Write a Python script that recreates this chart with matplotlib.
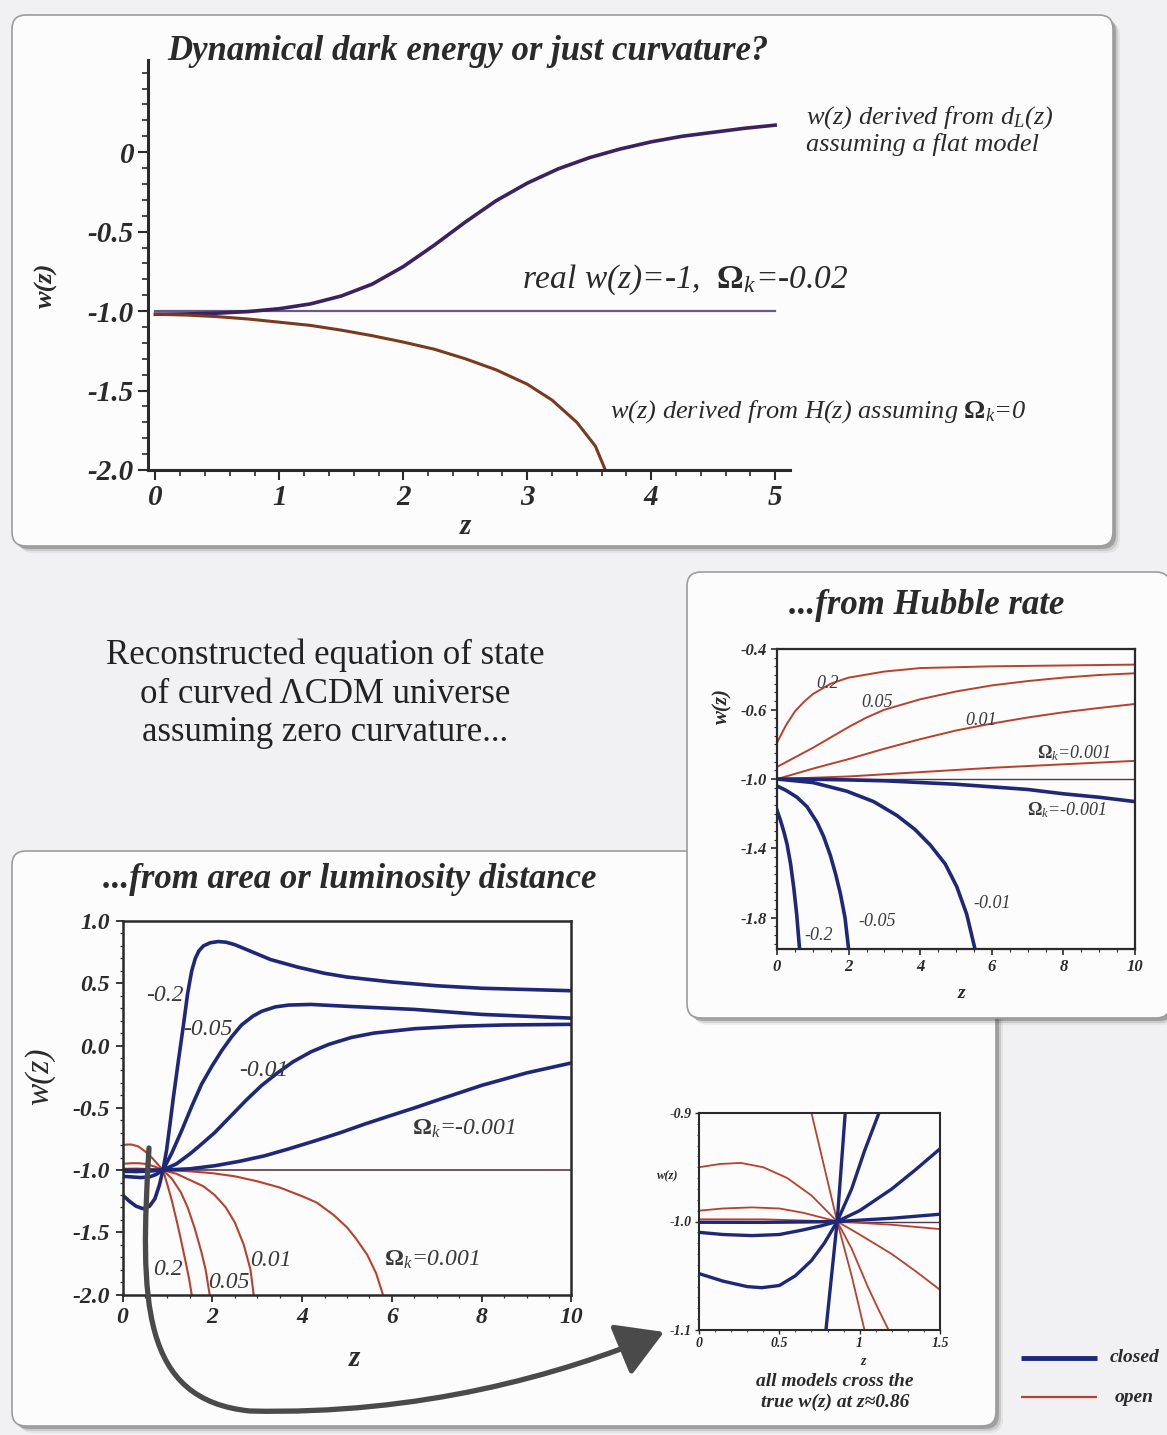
import numpy as np
import matplotlib
matplotlib.use('Agg')
import matplotlib.pyplot as plt
from matplotlib.patches import FancyBboxPatch, FancyArrowPatch
from matplotlib.path import Path
from matplotlib.ticker import MultipleLocator

# ---------------------------------------------------------------
# data
# ---------------------------------------------------------------
# top panel : w(z) reconstructed for Omega_k = -0.02
z_dl = [0, 0.25, 0.5, 0.75, 1.0, 1.25, 1.5, 1.75, 2.0, 2.25, 2.5, 2.75,
        3.0, 3.25, 3.5, 3.75, 4.0, 4.25, 4.5, 4.75, 5.0]
w_dl = [-1.02, -1.018, -1.013, -1.003, -0.985, -0.955, -0.905, -0.83, -0.72,
        -0.585, -0.44, -0.305, -0.195, -0.105, -0.035, 0.02, 0.065, 0.10,
        0.125, 0.15, 0.17]
z_hz = [0, 0.25, 0.5, 0.75, 1.0, 1.25, 1.5, 1.75, 2.0, 2.25, 2.5, 2.75,
        3.0, 3.2, 3.4, 3.55, 3.63]
w_hz = [-1.02, -1.025, -1.035, -1.05, -1.07, -1.09, -1.12, -1.155, -1.195,
        -1.24, -1.30, -1.37, -1.46, -1.56, -1.70, -1.85, -2.0]

# area / luminosity distance panel (closed = negative Omega_k)
zA_m02 = [0, 0.15, 0.3, 0.45, 0.6, 0.72, 0.82, 0.9, 0.98, 1.06, 1.13, 1.24,
          1.35, 1.45, 1.54, 1.62, 1.7, 1.8, 1.95, 2.13, 2.3, 2.5, 2.9, 3.3,
          3.9, 4.5, 5.0, 6.0, 7.0, 8.0, 9.0, 10.0]
wA_m02 = [-1.2, -1.25, -1.29, -1.31, -1.29, -1.23, -1.12, -1.0, -0.84, -0.62,
          -0.42, -0.13, 0.15, 0.42, 0.60, 0.70, 0.76, 0.80, 0.825, 0.835,
          0.83, 0.81, 0.75, 0.69, 0.63, 0.58, 0.55, 0.51, 0.48, 0.46, 0.45,
          0.44]
zA_m005 = [0, 0.2, 0.4, 0.6, 0.75, 0.9, 1.1, 1.32, 1.55, 1.76, 2.0, 2.21,
           2.43, 2.65, 2.9, 3.1, 3.4, 3.7, 4.2, 5.0, 6.5, 8.0, 10.0]
wA_m005 = [-1.05, -1.055, -1.06, -1.055, -1.035, -1.0, -0.86, -0.68, -0.48,
           -0.31, -0.16, -0.04, 0.07, 0.165, 0.235, 0.275, 0.31, 0.325, 0.33,
           0.315, 0.29, 0.25, 0.22]
zA_m001 = [0, 0.3, 0.6, 0.9, 1.2, 1.5, 1.7, 2.05, 2.4, 2.75, 3.1, 3.45, 3.8,
           4.2, 4.6, 5.1, 5.6, 6.5, 7.5, 8.5, 10.0]
wA_m001 = [-1.01, -1.012, -1.008, -1.0, -0.95, -0.87, -0.81, -0.70, -0.57,
           -0.44, -0.32, -0.22, -0.13, -0.05, 0.01, 0.065, 0.10, 0.135, 0.155,
           0.165, 0.17]
zA_m0001 = [0, 0.5, 0.9, 1.5, 2.06, 2.6, 3.17, 3.7, 4.29, 4.85, 5.4, 5.95,
            6.51, 7.0, 7.5, 8.0, 8.5, 9.0, 9.5, 10.0]
wA_m0001 = [-1.001, -1.001, -1.0, -0.99, -0.965, -0.93, -0.885, -0.83,
            -0.765, -0.70, -0.63, -0.565, -0.50, -0.44, -0.38, -0.32, -0.27,
            -0.22, -0.18, -0.14]
# open = positive Omega_k
zA_p02 = [0, 0.1, 0.2, 0.35, 0.5, 0.65, 0.8, 0.9, 1.0, 1.1, 1.2, 1.3, 1.4,
          1.48, 1.54]
wA_p02 = [-0.80, -0.795, -0.795, -0.81, -0.85, -0.90, -0.96, -1.0, -1.12,
          -1.25, -1.40, -1.56, -1.73, -1.87, -2.0]
zA_p005 = [0, 0.2, 0.35, 0.5, 0.7, 0.9, 1.1, 1.3, 1.45, 1.6, 1.75, 1.85, 1.94]
wA_p005 = [-0.95, -0.945, -0.945, -0.95, -0.97, -1.0, -1.07, -1.18, -1.30,
           -1.46, -1.65, -1.80, -2.0]
zA_p001 = [0, 0.3, 0.6, 0.9, 1.2, 1.5, 1.8, 2.05, 2.3, 2.5, 2.7, 2.85, 2.92]
wA_p001 = [-0.99, -0.988, -0.992, -1.0, -1.03, -1.08, -1.13, -1.20, -1.30,
           -1.42, -1.60, -1.80, -2.0]
zA_p0001 = [0, 0.9, 1.5, 2.0, 2.5, 3.0, 3.5, 4.0, 4.32, 4.7, 5.0, 5.2, 5.45,
            5.65, 5.8]
wA_p0001 = [-0.999, -1.0, -1.01, -1.025, -1.05, -1.09, -1.14, -1.21, -1.26,
            -1.36, -1.46, -1.55, -1.68, -1.83, -2.0]

# Hubble rate panel
zH_m0001 = [0, 1, 2, 3, 4, 5, 6, 7, 8, 9, 10]
wH_m0001 = [-1.0, -1.001, -1.005, -1.01, -1.02, -1.03, -1.045, -1.06, -1.085,
            -1.105, -1.13]
zH_m001 = [0, 1, 1.95, 2.7, 3.35, 3.85, 4.28, 4.7, 5.02, 5.3, 5.53]
wH_m001 = [-1.0, -1.02, -1.07, -1.13, -1.21, -1.29, -1.38, -1.49, -1.62,
           -1.78, -1.98]
zH_m005 = [0, 0.25, 0.56, 0.84, 1.12, 1.3, 1.49, 1.64, 1.77, 1.9, 2.0]
wH_m005 = [-1.04, -1.065, -1.105, -1.16, -1.25, -1.33, -1.44, -1.55, -1.66,
           -1.80, -1.98]
zH_m02 = [0, 0.1, 0.2, 0.28, 0.38, 0.47, 0.55, 0.63]
wH_m02 = [-1.18, -1.24, -1.31, -1.375, -1.49, -1.63, -1.78, -1.98]
zH_p0001 = [0, 2, 4, 6, 8, 10]
wH_p0001 = [-1.0, -0.985, -0.96, -0.935, -0.915, -0.895]
zH_p001 = [0, 1, 2, 3, 4, 5, 6, 7, 8, 9, 10]
wH_p001 = [-1.0, -0.94, -0.885, -0.825, -0.77, -0.72, -0.68, -0.645, -0.615,
           -0.59, -0.567]
zH_p005 = [0, 0.5, 1, 1.5, 2, 2.5, 3, 4, 5, 6, 7, 8, 9, 10]
wH_p005 = [-0.93, -0.875, -0.82, -0.76, -0.70, -0.645, -0.60, -0.54, -0.495,
           -0.46, -0.435, -0.415, -0.40, -0.39]
zH_p02 = [0, 0.25, 0.5, 0.75, 1, 1.5, 2, 3, 4, 5, 6, 8, 10]
wH_p02 = [-0.79, -0.69, -0.61, -0.555, -0.51, -0.45, -0.415, -0.38, -0.36,
          -0.355, -0.35, -0.345, -0.34]

# zoom inset around the crossing point
zI_m0001 = [0, 0.4, 0.86, 1.2, 1.5]
wI_m0001 = [-1.0007, -1.0008, -1.0, -0.997, -0.9933]
zI_m001 = [0, 0.15, 0.33, 0.5, 0.64, 0.76, 0.86, 1.0, 1.2, 1.35, 1.5]
wI_m001 = [-1.010, -1.012, -1.013, -1.012, -1.008, -1.004, -1.0, -0.99,
           -0.97, -0.952, -0.933]
zI_m005 = [0, 0.15, 0.3, 0.39, 0.5, 0.6, 0.7, 0.78, 0.86, 0.95, 1.03, 1.12]
wI_m005 = [-1.048, -1.055, -1.06, -1.061, -1.059, -1.05, -1.036, -1.02, -1.0,
           -0.97, -0.935, -0.9]
zI_m02 = [0.79, 0.825, 0.86, 0.885, 0.91]
wI_m02 = [-1.1, -1.05, -1.0, -0.95, -0.9]
zI_p0001 = [0, 0.4, 0.86, 1.2, 1.5]
wI_p0001 = [-0.998, -0.998, -1.0, -1.003, -1.007]
zI_p001 = [0, 0.15, 0.33, 0.5, 0.65, 0.86, 1.0, 1.2, 1.35, 1.5]
wI_p001 = [-0.990, -0.988, -0.987, -0.988, -0.992, -1.0, -1.012, -1.03,
           -1.046, -1.063]
zI_p005 = [0, 0.13, 0.26, 0.4, 0.55, 0.7, 0.86, 0.95, 1.05, 1.12, 1.18]
wI_p005 = [-0.95, -0.947, -0.946, -0.95, -0.96, -0.976, -1.0, -1.025, -1.06,
           -1.082, -1.1]
zI_p02 = [0.7, 0.78, 0.86, 0.95, 1.03]
wI_p02 = [-0.9, -0.95, -1.0, -1.05, -1.1]

# ---------------------------------------------------------------
W, H = 1167, 1435
plt.rcParams['font.family'] = ['Liberation Serif', 'DejaVu Serif']
plt.rcParams['mathtext.fontset'] = 'custom'
plt.rcParams['mathtext.rm'] = 'Liberation Serif'
plt.rcParams['mathtext.it'] = 'Liberation Serif:italic'
plt.rcParams['mathtext.bf'] = 'Liberation Serif:bold'
plt.rcParams['axes.unicode_minus'] = False

BLUE = '#1f2878'
RED = '#b8412e'
TXT = '#3a3a3a'
DARK = '#2a2a2a'

fig = plt.figure(figsize=(W/100, H/100), dpi=100)
fig.patch.set_facecolor('#f1f1f3')


def rect(x0, y0, x1, y1):
    return [x0/W, 1 - y1/H, (x1-x0)/W, (y1-y0)/H]


bg = fig.add_axes([0, 0, 1, 1], zorder=0)
bg.set_xlim(0, W)
bg.set_ylim(H, 0)
bg.axis('off')


def panel(x0, y0, x1, y1):
    for off, a in [(7, 0.08), (5, 0.15), (3, 0.3)]:
        bg.add_patch(FancyBboxPatch((x0+off, y0+off), x1-x0, y1-y0,
                     boxstyle='round,pad=0,rounding_size=14', fc='#404040',
                     ec='none', alpha=a))
    bg.add_patch(FancyBboxPatch((x0, y0), x1-x0, y1-y0,
                 boxstyle='round,pad=0,rounding_size=14', fc='#fcfcfc',
                 ec='#9c9c9c', lw=1.2))


panel(12, 15, 1113, 546)
panel(12, 851, 996, 1426)
panel(687, 572, 1170, 1018)

tickfont = dict(family='Liberation Serif', style='italic', weight='bold')


def boldital(a):
    for lab in a.get_xticklabels() + a.get_yticklabels():
        lab.set_fontstyle('italic')
        lab.set_fontweight('bold')


# ---------------- top panel ----------------
ax = fig.add_axes(rect(148, 60, 790, 470), zorder=2)
ax.patch.set_alpha(0)
ax.plot([0, 5], [-1, -1], color='#6a5a88', lw=1.6)
ax.plot(z_dl, w_dl, color='#3b2160', lw=2.6)
ax.plot(z_hz, w_hz, color='#7a3a1e', lw=2.2)
ax.set_xlim(-0.06, 5.12)
ax.set_ylim(-2.0, 0.58)
for s in ['top', 'right']:
    ax.spines[s].set_visible(False)
for s in ['left', 'bottom']:
    ax.spines[s].set_linewidth(2.2)
    ax.spines[s].set_color(DARK)
ax.set_xticks([0, 1, 2, 3, 4, 5])
ax.set_yticks([0, -0.5, -1.0, -1.5, -2.0])
ax.set_yticklabels(['0', '-0.5', '-1.0', '-1.5', '-2.0'])
ax.xaxis.set_minor_locator(MultipleLocator(0.2))
ax.yaxis.set_minor_locator(MultipleLocator(0.1))
ax.tick_params(which='major', direction='out', length=7, width=1.5,
               colors=DARK, labelsize=21, pad=3)
ax.tick_params(which='minor', direction='out', length=4, width=1.2,
               colors=DARK)
boldital(ax)
ax.set_xlabel('z', fontsize=21, **tickfont, color=DARK)
ax.xaxis.set_label_coords(0.494, -0.105)
ax.set_ylabel('w(z)', fontsize=19, **tickfont, color=DARK)
ax.yaxis.set_label_coords(-0.14, 0.45)

fig.text(468/W, 1 - 51/H, 'Dynamical dark energy or just curvature?',
         ha='center', va='center', fontsize=25, color=DARK, **tickfont)
fig.text(806/W, 1 - 130/H, 'w(z) derived from d$_{L}$(z)\nassuming a flat model',
         ha='left', va='center', fontsize=19, style='italic', color=DARK,
         linespacing=1.15)
fig.text(522/W, 1 - 280/H, r'real w(z)=-1,  $\mathbf{\Omega}_{k}$=-0.02',
         ha='left', va='center', fontsize=24, style='italic', color=DARK)
fig.text(610/W, 1 - 412/H, r'w(z) derived from H(z) assuming $\mathbf{\Omega}_{k}$=0',
         ha='left', va='center', fontsize=19, style='italic', color=DARK)

# ---------------- middle text ----------------
fig.text(325/W, 1 - 694/H,
         'Reconstructed equation of state\nof curved \u039bCDM universe\nassuming zero curvature...',
         ha='center', va='center', fontsize=25, color='#222222',
         linespacing=1.22)

# ---------------- Hubble rate panel ----------------
fig.text(927/W, 1 - 606/H, '...from Hubble rate', ha='center', va='center',
         fontsize=25, color=DARK, **tickfont)
ah = fig.add_axes(rect(777, 649, 1135, 949), zorder=2)
ah.patch.set_alpha(0)
ah.plot([0, 10], [-1, -1], color='#4a3a4a', lw=1.0)
for zz, ww in [(zH_p0001, wH_p0001), (zH_p001, wH_p001),
               (zH_p005, wH_p005), (zH_p02, wH_p02)]:
    ah.plot(zz, ww, color=RED, lw=1.4)
for zz, ww in [(zH_m0001, wH_m0001), (zH_m001, wH_m001),
               (zH_m005, wH_m005), (zH_m02, wH_m02)]:
    ah.plot(zz, ww, color=BLUE, lw=2.6)
ah.set_xlim(0, 10)
ah.set_ylim(-1.98, -0.25)
ah.set_xticks([0, 2, 4, 6, 8, 10])
ah.set_yticks([-0.25, -0.6, -1.0, -1.4, -1.8])
ah.set_yticklabels(['-0.4', '-0.6', '-1.0', '-1.4', '-1.8'])
ah.xaxis.set_minor_locator(MultipleLocator(0.5))
ah.yaxis.set_minor_locator(MultipleLocator(0.05))
ah.tick_params(which='major', direction='out', length=4, width=1.2,
               colors=DARK, labelsize=12, pad=3)
ah.tick_params(which='minor', direction='out', length=2, width=0.8,
               colors=DARK)
for s in ah.spines.values():
    s.set_linewidth(1.6)
    s.set_color(DARK)
boldital(ah)
ah.set_xlabel('z', fontsize=14, **tickfont, color=DARK)
ah.xaxis.set_label_coords(0.516, -0.12)
ah.set_ylabel('w(z)', fontsize=15, **tickfont, color=DARK)
ah.yaxis.set_label_coords(-0.125, 0.81)
hl = dict(fontsize=13, style='italic', color=TXT, ha='center', va='center')
ah.text(1.4, -0.45, '0.2', **hl)
ah.text(2.8, -0.56, '0.05', **hl)
ah.text(5.7, -0.665, '0.01', **hl)
ah.text(8.3, -0.85, r'$\mathbf{\Omega}_{k}$=0.001', **hl)
ah.text(8.1, -1.18, r'$\mathbf{\Omega}_{k}$=-0.001', **hl)
ah.text(6.0, -1.72, '-0.01', **hl)
ah.text(2.8, -1.82, '-0.05', **hl)
ah.text(1.15, -1.9, '-0.2', **hl)

# ---------------- area / luminosity distance panel ----------------
fig.text(350/W, 1 - 880/H, '...from area or luminosity distance',
         ha='center', va='center', fontsize=25, color=DARK, **tickfont)
aa = fig.add_axes(rect(122.6, 921, 571.4, 1294.6), zorder=2)
aa.patch.set_alpha(0)
aa.plot([0, 10], [-1, -1], color='#5a3a48', lw=1.2)
for zz, ww in [(zA_p0001, wA_p0001), (zA_p001, wA_p001),
               (zA_p005, wA_p005), (zA_p02, wA_p02)]:
    aa.plot(zz, ww, color=RED, lw=1.5)
for zz, ww in [(zA_m0001, wA_m0001), (zA_m001, wA_m001),
               (zA_m005, wA_m005), (zA_m02, wA_m02)]:
    aa.plot(zz, ww, color=BLUE, lw=2.6)
aa.set_xlim(0, 10)
aa.set_ylim(-2.0, 1.0)
aa.set_xticks([0, 2, 4, 6, 8, 10])
aa.set_yticks([1.0, 0.5, 0.0, -0.5, -1.0, -1.5, -2.0])
aa.set_yticklabels(['1.0', '0.5', '0.0', '-0.5', '-1.0', '-1.5', '-2.0'])
aa.xaxis.set_minor_locator(MultipleLocator(0.5))
aa.yaxis.set_minor_locator(MultipleLocator(0.1))
aa.tick_params(which='major', direction='out', length=5, width=1.3,
               colors=DARK, labelsize=17, pad=4)
aa.tick_params(which='minor', direction='out', length=2.5, width=0.9,
               colors=DARK)
for s in aa.spines.values():
    s.set_linewidth(1.8)
    s.set_color(DARK)
boldital(aa)
aa.set_xlabel('z', fontsize=21, **tickfont, color=DARK)
aa.xaxis.set_label_coords(0.516, -0.135)
aa.set_ylabel('w(z)', fontsize=24, style='italic', color=DARK)
aa.yaxis.set_label_coords(-0.15, 0.585)
al = dict(fontsize=17, style='italic', color=TXT, ha='center', va='center')
aa.text(0.95, 0.40, '-0.2', **al)
aa.text(1.9, 0.13, '-0.05', **al)
aa.text(3.15, -0.2, '-0.01', **al)
aa.text(7.6, -0.67, r'$\mathbf{\Omega}_{k}$=-0.001', **al)
aa.text(1.0, -1.8, '0.2', **al)
aa.text(2.37, -1.9, '0.05', **al)
aa.text(3.3, -1.73, '0.01', **al)
aa.text(6.9, -1.72, r'$\mathbf{\Omega}_{k}$=0.001', **al)

# ---------------- inset around the crossing ----------------
ai = fig.add_axes(rect(699, 1113, 940, 1330), zorder=2)
ai.patch.set_alpha(0)
ai.plot([0, 1.5], [-1, -1], color='#4a3a4a', lw=1.0)
for zz, ww in [(zI_p0001, wI_p0001), (zI_p001, wI_p001),
               (zI_p005, wI_p005), (zI_p02, wI_p02)]:
    ai.plot(zz, ww, color=RED, lw=1.3)
for zz, ww in [(zI_m0001, wI_m0001), (zI_m001, wI_m001),
               (zI_m005, wI_m005), (zI_m02, wI_m02)]:
    ai.plot(zz, ww, color=BLUE, lw=2.4)
ai.set_xlim(0, 1.5)
ai.set_ylim(-1.1, -0.9)
ai.set_xticks([0, 0.5, 1, 1.5])
ai.set_xticklabels(['0', '0.5', '1', '1.5'])
ai.set_yticks([-0.9, -1.0, -1.1])
ai.set_yticklabels(['-0.9', '-1.0', '-1.1'])
ai.xaxis.set_minor_locator(MultipleLocator(0.1))
ai.yaxis.set_minor_locator(MultipleLocator(0.01))
ai.tick_params(which='major', direction='out', length=3, width=1.0,
               colors=DARK, labelsize=10, pad=2)
ai.tick_params(which='minor', direction='out', length=1.5, width=0.6,
               colors=DARK)
for s in ai.spines.values():
    s.set_linewidth(1.5)
    s.set_color(DARK)
boldital(ai)
ai.set_xlabel('z', fontsize=10, **tickfont, color=DARK)
ai.xaxis.set_label_coords(0.68, -0.115)
ai.set_ylabel('w(z)', fontsize=9, **tickfont, color=DARK, rotation=0)
ai.yaxis.set_label_coords(-0.13, 0.68)

fig.text(835/W, 1 - 1392/H, 'all models cross the\ntrue w(z) at z\u22480.86',
         ha='center', va='center', fontsize=14, color=DARK, linespacing=1.25,
         **tickfont)

# ---------------- overlay: arrow and legend ----------------
fg = fig.add_axes([0, 0, 1, 1], zorder=5)
fg.set_xlim(0, W)
fg.set_ylim(H, 0)
fg.axis('off')
fg.patch.set_alpha(0)

verts = [(149, 1148), (140, 1300), (140, 1400), (250, 1411),
         (420, 1415), (560, 1375), (664, 1332)]
codes = [Path.MOVETO, Path.CURVE4, Path.CURVE4, Path.CURVE4,
         Path.CURVE4, Path.CURVE4, Path.CURVE4]
arr = FancyArrowPatch(path=Path(verts, codes),
                      arrowstyle='-|>,head_length=1.1,head_width=0.65',
                      mutation_scale=26, color='#4a4a4a', lw=3.8)
fg.add_patch(arr)

fg.plot([1021, 1097], [1358, 1358], color=BLUE, lw=3.5, solid_capstyle='butt')
fg.plot([1021, 1097], [1397, 1397], color=RED, lw=1.6, solid_capstyle='butt')
fg.text(1110, 1357, 'closed', ha='left', va='center', fontsize=14,
        color=DARK, **tickfont)
fg.text(1115, 1397, 'open', ha='left', va='center', fontsize=14,
        color=DARK, **tickfont)

fig.savefig('out.png', dpi=100, facecolor=fig.get_facecolor())
plt.close()
